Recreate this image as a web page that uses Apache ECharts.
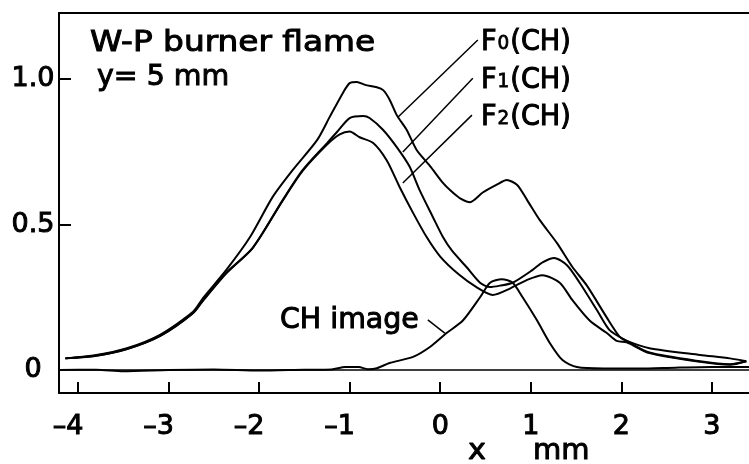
<!DOCTYPE html>
<html>
<head>
<meta charset="utf-8">
<script src="https://cdn.jsdelivr.net/npm/echarts@6/dist/echarts.min.js"></script>
<style>html,body{margin:0;padding:0;background:#fff}#c{width:749px;height:464px}</style>
</head>
<body>
<div id="c"></div>
<script>
// ---- data ----
var xTicks = [-4, -3, -2, -1, 0, 1, 2, 3];
var yTicks = [0.5, 1.0];
var yLabels = [0, 0.5, 1.0];

var f0 = [[-4.14,0.040],[-3.83,0.050],[-3.46,0.075],[-3.09,0.122],[-2.73,0.200],[-2.62,0.247],[-2.36,0.345],
  [-2.10,0.457],[-1.85,0.595],[-1.63,0.687],[-1.36,0.790],[-1.22,0.870],[-1.07,0.955],[-1.00,0.986],[-0.92,0.990],
  [-0.83,0.980],[-0.70,0.972],[-0.63,0.962],[-0.56,0.930],[-0.48,0.876],[-0.37,0.825],[-0.26,0.756],[-0.11,0.700],
  [0.03,0.643],[0.12,0.615],[0.22,0.590],[0.33,0.577],[0.47,0.610],[0.62,0.636],[0.735,0.653],[0.85,0.636],
  [0.96,0.584],[1.10,0.515],[1.29,0.436],[1.46,0.354],[1.62,0.290],[1.84,0.180],[1.98,0.115],[2.06,0.100],
  [2.31,0.075],[2.87,0.052],[3.20,0.040],[3.38,0.030]];
var f1 = [[-4.14,0.040],[-3.83,0.048],[-3.46,0.072],[-3.09,0.118],[-2.73,0.196],[-2.62,0.240],[-2.36,0.335],
  [-2.07,0.420],[-1.74,0.584],[-1.52,0.687],[-1.25,0.780],[-1.14,0.818],[-1.00,0.866],[-0.85,0.873],[-0.78,0.866],
  [-0.63,0.825],[-0.48,0.766],[-0.34,0.700],[-0.23,0.620],[-0.08,0.525],[0.03,0.457],[0.13,0.410],[0.29,0.354],
  [0.44,0.300],[0.55,0.285],[0.66,0.290],[0.80,0.300],[1.02,0.344],[1.13,0.370],[1.26,0.385],[1.40,0.360],
  [1.54,0.300],[1.73,0.206],[1.87,0.137],[2.06,0.100],[2.31,0.060],[2.87,0.030],[3.20,0.020],[3.38,0.030]];
var f2 = [[-4.14,0.040],[-3.83,0.047],[-3.46,0.072],[-3.09,0.117],[-2.73,0.195],[-2.62,0.238],[-2.36,0.333],
  [-2.07,0.420],[-1.74,0.582],[-1.52,0.684],[-1.25,0.775],[-1.11,0.810],[-1.00,0.820],[-0.89,0.800],[-0.74,0.780],
  [-0.59,0.720],[-0.45,0.630],[-0.30,0.540],[-0.15,0.457],[0.00,0.390],[0.20,0.330],[0.40,0.285],[0.58,0.258],
  [0.77,0.280],[0.96,0.310],[1.13,0.326],[1.32,0.300],[1.46,0.240],[1.65,0.170],[1.84,0.127],[1.95,0.100],
  [2.06,0.095],[2.31,0.058],[2.87,0.028],[3.20,0.018],[3.38,0.030]];
var chImage = [[-4.21,0.000],[-3.80,0.001],[-3.50,-0.004],[-3.00,0.000],[-2.50,0.002],[-2.00,-0.002],[-1.50,0.001],
  [-1.20,0.002],[-1.05,0.010],[-0.90,0.010],[-0.80,0.003],[-0.70,0.006],[-0.56,0.024],[-0.30,0.045],[-0.11,0.080],
  [0.07,0.127],[0.25,0.170],[0.44,0.250],[0.55,0.300],[0.68,0.312],[0.80,0.300],[0.91,0.250],[1.07,0.170],
  [1.21,0.093],[1.35,0.034],[1.51,0.010],[1.80,0.005],[2.20,0.005],[2.60,0.008],[3.00,0.010],[3.41,0.010]];
var leaderF0 = [[0.415,1.134],[-0.468,0.869]];
var leaderF1 = [[0.36,1.003],[-0.413,0.749]];
var leaderF2 = [[0.35,0.876],[-0.413,0.643]];
var leaderCH = [[-0.137,0.172],[0.05,0.127]];

// ---- chart ----
var FONT = 'DejaVu Sans';
var chart = echarts.init(document.getElementById('c'), null, {renderer: 'canvas'});
function curve(name, d, w, sm) {
  return {name: name, type: 'line', data: d, showSymbol: false, symbol: 'none', smooth: sm,
    lineStyle: {color: '#000', width: w}, silent: true, animation: false, z: 3};
}
var series = [
  curve('F0(CH)', f0, 2, 0.25), curve('F1(CH)', f1, 2, 0.25), curve('F2(CH)', f2, 2, 0.25),
  curve('CH image', chImage, 2, 0.25),
  curve('l0', leaderF0, 1.5, false), curve('l1', leaderF1, 1.5, false),
  curve('l2', leaderF2, 1.5, false), curve('lc', leaderCH, 1.5, false)
];
series[3].markLine = {silent: true, symbol: 'none', label: {show: false},
  lineStyle: {color: '#000', type: 'solid', width: 1.5}, data: [{yAxis: 0}], animation: false};

var big = {fontFamily: FONT, fontSize: 28, fill: '#000', stroke: '#000', lineWidth: 1, verticalAlign: 'bottom', lineHeight: 30};
var sub = {fontFamily: FONT, fontSize: 19, fill: '#000', stroke: '#000', lineWidth: 0.8, verticalAlign: 'bottom', lineHeight: 30, padding: [0, 1, 3, 1]};
function txt(s, x, y, size, sx) {
  return {type: 'text', x: x, y: y, scaleX: sx || 1, silent: true,
    style: {text: s, font: size + 'px "' + FONT + '"', fill: '#000', stroke: '#000', lineWidth: 1, textVerticalAlign: 'middle'}};
}
function flabel(d, y) {
  return {type: 'text', x: 481, y: y, scaleX: 0.97, silent: true,
    style: {text: '{b|F}{s|' + d + '}{b|(CH)}', rich: {b: big, s: sub}, textVerticalAlign: 'middle'}};
}

chart.setOption({
  animation: false,
  backgroundColor: '#fff',
  grid: {left: 59, right: 0, top: 13, bottom: 71, containLabel: false},
  xAxis: [{
    type: 'value', min: -4.21, max: 3.41, position: 'bottom',
    splitLine: {show: false},
    axisLine: {show: true, onZero: false, lineStyle: {color: '#000', width: 2}},
    axisTick: {show: true, inside: true, length: 11, customValues: xTicks, lineStyle: {color: '#000', width: 2}},
    axisLabel: {show: true, margin: 20, customValues: xTicks, color: '#000', fontFamily: FONT, fontSize: 27,
      textBorderColor: '#000', textBorderWidth: 1,
      formatter: function(v){ return v < 0 ? '{n|\u2013' + (-v) + '}' : '{p|' + v + '}'; },
      rich: {n: {fontFamily: FONT, fontSize: 27, color: '#000', textBorderColor: '#000', textBorderWidth: 1, padding: [0, 20, 0, 0]},
             p: {fontFamily: FONT, fontSize: 27, color: '#000', textBorderColor: '#000', textBorderWidth: 1}}}
  }, {
    type: 'value', min: -4.21, max: 3.41, position: 'top',
    splitLine: {show: false},
    axisLine: {show: true, onZero: false, lineStyle: {color: '#000', width: 2}},
    axisTick: {show: false}, axisLabel: {show: false}
  }],
  yAxis: {
    type: 'value', min: -0.079, max: 1.227,
    splitLine: {show: false},
    axisLine: {show: true, onZero: false, lineStyle: {color: '#000', width: 2}},
    axisTick: {show: true, inside: true, length: 12, customValues: yTicks, lineStyle: {color: '#000', width: 2}},
    axisLabel: {show: true, margin: 26, align: 'center', padding: [7, 0, 0, 0], customValues: yLabels,
      color: '#000', fontFamily: FONT, fontSize: 27, textBorderColor: '#000', textBorderWidth: 1,
      formatter: function(v){ return v === 0 ? '0' : v.toFixed(1); }}
  },
  series: series,
  graphic: [
    txt('W-P burner flame', 90, 43, 29, 1.13),
    txt('y= 5 mm', 97, 77, 29, 0.98),
    flabel('0', 42), flabel('1', 80), flabel('2', 117),
    txt('CH image', 280, 320, 29, 0.98),
    txt('x', 468, 451, 29, 1.05),
    txt('mm', 533, 451, 29, 1.0)
  ]
});
</script>
</body>
</html>
